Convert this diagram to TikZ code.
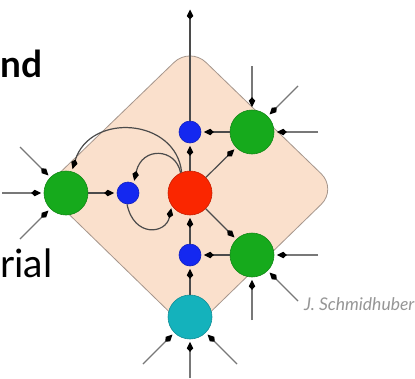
\documentclass[tikz,border=0pt]{standalone}
\usepackage{fontspec}
\setmainfont{Lato}
\usetikzlibrary{arrows.meta}
\definecolor{peach}{RGB}{250,224,204}
\definecolor{dborder}{RGB}{165,150,140}
\definecolor{ngreen}{RGB}{22,170,28}
\definecolor{nred}{RGB}{250,38,0}
\definecolor{nblue}{RGB}{20,40,240}
\definecolor{ncyan}{RGB}{20,178,188}
\definecolor{lgray}{RGB}{75,75,75}
\definecolor{igray}{RGB}{120,120,120}
\definecolor{tgray}{RGB}{150,150,150}
\tikzset{
  big/.style={circle,minimum size=44pt,inner sep=0pt,line width=0.6pt},
  small/.style={circle,minimum size=22pt,inner sep=0pt,line width=0.6pt},
  tip/.style={-{Kite[length=10pt,width=6.5pt,inset=3.5pt,color=black]},shorten >=2.5pt},
  link/.style={tip,draw=lgray,line width=1.2pt},
  inlink/.style={tip,draw=igray,line width=1.3pt},
}
\begin{document}
\begin{tikzpicture}[x=1pt,y=-1pt]
\useasboundingbox (0,0) rectangle (415,378);
\fill[white] (0,0) rectangle (415,378);
% diamond
\draw[fill=peach,draw=dborder,line width=0.8pt,rounded corners=22pt]
  (190,47) -- (337,189) -- (190,332) -- (43,189) -- cycle;
% nodes
\node[big,fill=nred,draw=nred!80!black] (red) at (190,193) {};
\node[small,fill=nblue,draw=nblue!80!black] (bt) at (190,132) {};
\node[small,fill=nblue,draw=nblue!80!black] (bl) at (128,193) {};
\node[small,fill=nblue,draw=nblue!80!black] (bb) at (190,255) {};
\node[big,fill=ngreen,draw=ngreen!80!black] (gtr) at (252,132) {};
\node[big,fill=ngreen,draw=ngreen!80!black] (gl) at (66,193) {};
\node[big,fill=ngreen,draw=ngreen!80!black] (gbr) at (252,255) {};
\node[big,fill=ncyan,draw=ncyan!80!black] (cy) at (190,317) {};
% free ends
\coordinate (out) at (190,7);
\coordinate (gl1) at (20,147);
\coordinate (gl2) at (2,193);
\coordinate (gl3) at (20,239);
\coordinate (tr1) at (252,66);
\coordinate (tr2) at (298,86);
\coordinate (tr3) at (318,132);
\coordinate (br1) at (318,255);
\coordinate (br2) at (298,301);
\coordinate (br3) at (252,320);
\coordinate (cy1) at (143,364);
\coordinate (cy2) at (190,378);
\coordinate (cy3) at (237,364);
% internal connectors
\draw[link] (bt) -- (out);
\draw[link] (red) -- (bt);
\draw[link] (gtr) -- (bt);
\draw[link] (red) -- (gtr);
\draw[link] (red) -- (gbr);
\draw[link] (bb) -- (red);
\draw[link] (cy) -- (bb);
\draw[link] (gbr) -- (bb);
\draw[link] (gl) -- (bl);
\draw[link] (red.112) .. controls (176,118) and (90,112) .. (gl.75);
\draw[link] (red.115) .. controls (176,148) and (142,146) .. (bl.60);
\draw[link] (bl.265) .. controls (134,238) and (166,234) .. (red.215);
% inputs
\draw[inlink] (gl1) -- (gl);
\draw[inlink] (gl2) -- (gl);
\draw[inlink] (gl3) -- (gl);
\draw[inlink] (tr1) -- (gtr);
\draw[inlink] (tr2) -- (gtr);
\draw[inlink] (tr3) -- (gtr);
\draw[inlink] (br1) -- (gbr);
\draw[inlink] (br2) -- (gbr);
\draw[inlink] (br3) -- (gbr);
\draw[inlink] (cy1) -- (cy);
\draw[inlink] (cy2) -- (cy);
\draw[inlink] (cy3) -- (cy);
% texts
\node[anchor=base west,inner sep=0pt,font=\fontsize{37}{40}\selectfont\bfseries] (t1) at (0,77) {nd};
\node[anchor=base west,inner sep=0pt,font=\fontsize{39}{42}\selectfont] (t2) at (0,277) {rial};
\node[anchor=base west,inner sep=0pt,text=tgray,font=\fontsize{17.5}{20}\selectfont\itshape] (t3) at (304,310) {J. Schmidhuber};
\end{tikzpicture}
\end{document}
